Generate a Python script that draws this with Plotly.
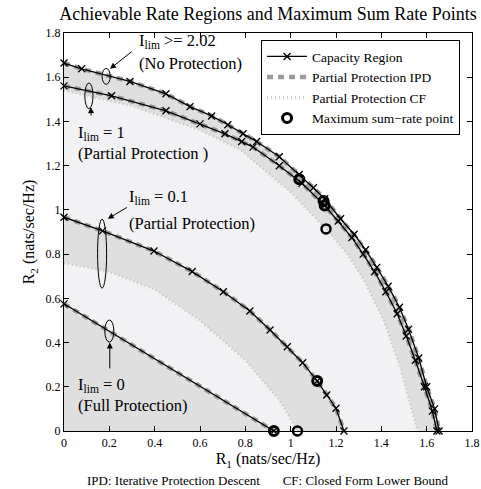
import plotly.graph_objects as go

# ---------------- data ----------------
cap_x = [0, 0.078, 0.291, 0.45, 0.556, 0.651, 0.723, 0.79, 0.85, 0.95, 1.038, 1.10, 1.15, 1.22, 1.28, 1.33, 1.38, 1.43, 1.48, 1.52, 1.565, 1.60, 1.635, 1.655]
cap_y = [1.664, 1.638, 1.581, 1.525, 1.467, 1.425, 1.385, 1.344, 1.309, 1.24, 1.16, 1.10, 1.05, 0.96, 0.89, 0.82, 0.74, 0.655, 0.56, 0.46, 0.33, 0.20, 0.10, 0.0]

p1_x = [0, 0.21, 0.45, 0.60, 0.71, 0.784, 0.834, 0.95, 1.05, 1.15, 1.21, 1.27, 1.32, 1.37, 1.42, 1.47, 1.51, 1.55, 1.59, 1.625, 1.645]
p1_y = [1.561, 1.516, 1.448, 1.389, 1.344, 1.309, 1.284, 1.20, 1.12, 1.02, 0.95, 0.875, 0.80, 0.72, 0.63, 0.53, 0.43, 0.32, 0.20, 0.09, 0.0]

p01_x = [0, 0.17, 0.397, 0.566, 0.703, 0.82, 0.909, 0.985, 1.053, 1.117, 1.159, 1.20, 1.235]
p01_y = [0.967, 0.905, 0.814, 0.721, 0.63, 0.543, 0.457, 0.381, 0.309, 0.226, 0.163, 0.103, 0.0]

p0_x = [0, 0.926]
p0_y = [0.575, 0.0]

cf1_x = [0, 0.3, 0.6, 0.78, 1.0, 1.156, 1.25, 1.33, 1.41, 1.48, 1.56]
cf1_y = [1.54, 1.47, 1.36, 1.27, 1.08, 0.914, 0.80, 0.67, 0.50, 0.30, 0.0]

cf01_x = [0, 0.2, 0.4, 0.6, 0.8, 0.95, 1.03]
cf01_y = [0.76, 0.72, 0.64, 0.50, 0.32, 0.14, 0.0]

max_ipd_x = [1.038, 1.145, 1.15, 1.117, 0.926]
max_ipd_y = [1.139, 1.04, 1.02, 0.226, 0.0]
max_cf_x = [1.156, 1.03]
max_cf_y = [0.914, 0.0]

x_ticks = [0, 0.2, 0.4, 0.6, 0.8, 1, 1.2, 1.4, 1.6, 1.8]
tick_text = ["0", "0.2", "0.4", "0.6", "0.8", "1", "1.2", "1.4", "1.6", "1.8"]

MED = "#dfdfe0"
LIGHT = "#f2f2f4"
SERIF = "Liberation Serif, Times New Roman, serif"

fig = go.Figure()

def region(xs, ys, color):
    fig.add_trace(go.Scatter(x=[0] + xs + [0], y=[0] + ys + [0], fill="toself",
                             fillcolor=color, mode="none", showlegend=False,
                             hoverinfo="skip"))

region(cap_x, cap_y, MED)
region(cf1_x, cf1_y, LIGHT)
region(p01_x, p01_y, MED)
region(cf01_x, cf01_y, LIGHT)
region(p0_x, p0_y, MED)

# CF dotted curves
for i, (xs, ys) in enumerate([(cf1_x, cf1_y), (cf01_x, cf01_y)]):
    fig.add_trace(go.Scatter(x=xs, y=ys, mode="lines",
                             line=dict(color="#c4c4c4", width=2.5, dash="1px,3px"),
                             name="Partial Protection CF", showlegend=(i == 0), legendrank=3,
                             cliponaxis=False))

# IPD dashed grey curves
for i, (xs, ys) in enumerate([(cap_x, cap_y), (p1_x, p1_y), (p01_x, p01_y), (p0_x, p0_y)]):
    fig.add_trace(go.Scatter(x=xs, y=ys, mode="lines",
                             line=dict(color="#9a9a9a", width=4.5, dash="6px,5px"),
                             name="Partial Protection IPD", showlegend=(i == 1), legendrank=2,
                             cliponaxis=False))

# Black capacity / rate region curves with x markers
for i, (xs, ys) in enumerate([(cap_x, cap_y), (p1_x, p1_y), (p01_x, p01_y), (p0_x, p0_y)]):
    fig.add_trace(go.Scatter(x=xs, y=ys, mode="lines+markers",
                             line=dict(color="black", width=1.3),
                             marker=dict(symbol="x-thin", size=7, color="black",
                                         line=dict(color="black", width=1.3)),
                             name="Capacity Region", showlegend=(i == 0), legendrank=1,
                             cliponaxis=False))

# Maximum sum-rate points
fig.add_trace(go.Scatter(x=max_ipd_x, y=max_ipd_y, mode="markers",
                         marker=dict(symbol="circle-open", size=9, color="black",
                                     line=dict(color="black", width=3)),
                         name="Maximum sum\u2212rate point", showlegend=True, legendrank=4,
                         cliponaxis=False))
fig.add_trace(go.Scatter(x=max_cf_x, y=max_cf_y, mode="markers",
                         marker=dict(symbol="circle-open", size=9, color="black",
                                     line=dict(color="black", width=2.5)),
                         showlegend=False, cliponaxis=False))

# ellipses + arrows + labels
ellipses = [  # (cx, cy, rx, ry) in data units
    (0.186, 1.604, 0.018, 0.036),
    (0.11, 1.516, 0.018, 0.058),
    (0.168, 0.802, 0.02, 0.156),
    (0.2, 0.452, 0.02, 0.05),
]
for cx, cy, rx, ry in ellipses:
    fig.add_shape(type="circle", xref="x", yref="y", x0=cx - rx, x1=cx + rx,
                  y0=cy - ry, y1=cy + ry, line=dict(color="black", width=1))

arrows = [  # head (x,y), tail (x,y) in data units
    ((0.203, 1.638), (0.305, 1.721)),
    ((0.118, 1.465), (0.12, 1.42)),
    ((0.193, 0.96), (0.284, 1.015)),
    ((0.202, 0.40), (0.202, 0.276)),
]
for (hx, hy), (tx, ty) in arrows:
    fig.add_annotation(x=hx, y=hy, ax=tx, ay=ty, xref="x", yref="y", axref="x", ayref="y",
                       showarrow=True, arrowhead=2, arrowsize=1.2, arrowwidth=1, arrowcolor="black",
                       text="")

labels = [
    (0.32, 1.765, "I<sub>lim</sub> >= 2.02"),
    (0.32, 1.66, "(No Protection)"),
    (0.055, 1.35, "I<sub>lim</sub> = 1"),
    (0.055, 1.255, "(Partial Protection )"),
    (0.28, 1.06, "I<sub>lim</sub> = 0.1"),
    (0.28, 0.94, "(Partial Protection)"),
    (0.052, 0.21, "I<sub>lim</sub> = 0"),
    (0.052, 0.115, "(Full Protection)"),
]
for x, y, t in labels:
    fig.add_annotation(x=x, y=y, xref="x", yref="y", text=t, showarrow=False,
                       xanchor="left", yanchor="middle",
                       font=dict(family=SERIF, size=16.5, color="black"))

fig.add_annotation(x=0.5, y=-0.125, xref="paper", yref="paper", showarrow=False,
                   text="IPD: Iterative Protection Descent&nbsp;&nbsp;&nbsp;&nbsp;&nbsp;&nbsp;&nbsp;CF: Closed Form Lower Bound",
                   font=dict(family=SERIF, size=13, color="black"), xanchor="center", yanchor="middle")

axis_common = dict(range=[0, 1.8], tickvals=x_ticks, ticktext=tick_text, ticks="inside",
                   ticklen=5, tickcolor="black", showline=True, linecolor="black", linewidth=1.3,
                   mirror="ticks", showgrid=False, zeroline=False, automargin=False,
                   tickfont=dict(family=SERIF, size=12, color="black"))

fig.update_layout(
    width=481, height=489,
    margin=dict(l=64, r=9, t=33, b=58, autoexpand=False),
    plot_bgcolor="white", paper_bgcolor="white",
    title=dict(text="Achievable Rate Regions and Maximum Sum Rate Points", x=0.5, xanchor="center",
               xref="paper", y=0.972, yanchor="middle", font=dict(family=SERIF, size=18, color="black")),
    xaxis=dict(**axis_common, title=dict(text="R<sub>1</sub> (nats/sec/Hz)", standoff=4,
                                         font=dict(family=SERIF, size=16, color="black"))),
    yaxis=dict(**axis_common, title=dict(text="R<sub>2</sub> (nats/sec/Hz)", standoff=6,
                                         font=dict(family=SERIF, size=16, color="black"))),
    legend=dict(x=0.483, y=0.982, xanchor="left", yanchor="top", bordercolor="black", borderwidth=1,
                bgcolor="white", font=dict(family=SERIF, size=13.5, color="black"),
                tracegroupgap=0, itemwidth=40, traceorder="normal"),
    showlegend=True,
)

fig.write_html("out.html", config={"displayModeBar": False},
               post_script="document.body.style.margin='0';document.body.style.overflow='hidden';")
